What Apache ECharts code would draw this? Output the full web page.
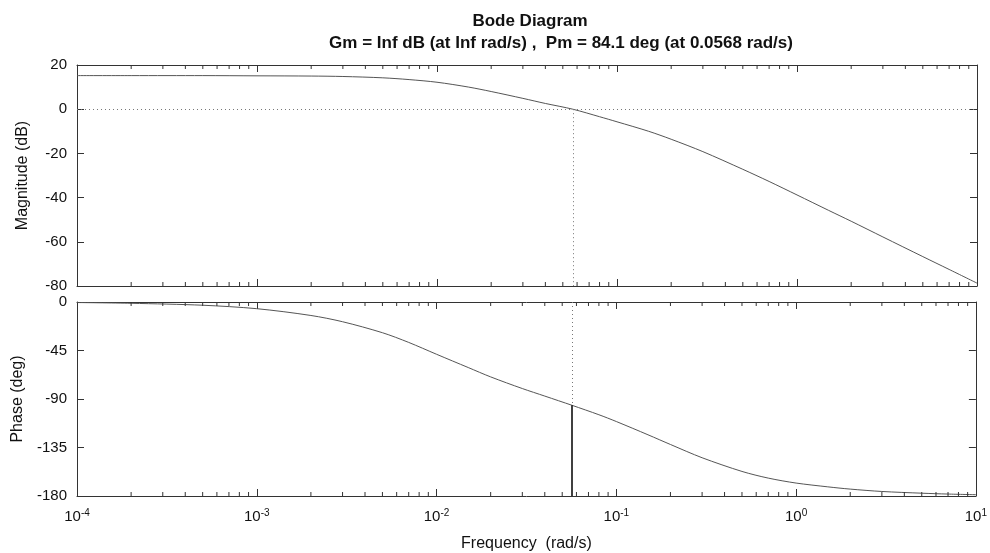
<!DOCTYPE html>
<html>
<head>
<meta charset="utf-8">
<script src="https://cdn.jsdelivr.net/npm/echarts@6/dist/echarts.min.js"></script>
<style>
  html, body { margin: 0; padding: 0; background: #fff; }
  #chart { width: 990px; height: 553px; }
</style>
</head>
<body>
<div id="chart"></div>
<script>
// frequencies (rad/s) and readings
const freq = [1e-4, 2e-4, 5e-4, 1e-3, 2e-3, 3e-3, 5e-3, 7e-3, 0.01, 0.015, 0.02, 0.03, 0.04, 0.0568,
  0.08, 0.1, 0.15, 0.2, 0.3, 0.5, 0.7, 1, 1.5, 2, 3, 5, 7, 10];
const magDb = [15.2, 15.2, 15.2, 15.1, 15.0, 14.8, 14.2, 13.4, 12.2, 10.0, 8.0, 4.9, 2.6, 0,
  -3.4, -5.7, -10, -13.6, -19.2, -27.2, -32.7, -38.8, -45.8, -50.7, -57.8, -66.7, -72.5, -78.7];
const phaseDeg = [-0.5, -1.2, -3, -6.2, -12.5, -18.3, -28.5, -37.5, -48.5, -60.8, -69.5, -80.3, -87.3, -95.9,
  -104.6, -110.9, -123.2, -132.2, -144.5, -157.2, -163.4, -168, -171.5, -173.6, -175.8, -177.4, -178.2, -178.8];

const wc = 0.0568;          // crossover frequency
const phaseAtWc = -95.9;    // 180 - 84.1
const minorTicks = [];
[1e-4, 1e-3, 1e-2, 1e-1, 1].forEach(function (d) {
  for (let k = 2; k <= 9; k++) minorTicks.push(+(d * k).toPrecision(3));
});

const font = "Liberation Sans, Arial, sans-serif";
const axisColor = "#333";

let chart = echarts.init(document.getElementById("chart"));

function xLog(grid, pos, showLabel) {
  return {
    type: "log", logBase: 10, gridIndex: grid, position: pos,
    min: 1e-4, max: 10, splitNumber: 5,
    axisLine: { show: true, onZero: false, lineStyle: { color: axisColor, width: 1 } },
    axisTick: { show: true, inside: true, length: 7, lineStyle: { color: axisColor } },
    splitLine: { show: false },
    axisLabel: showLabel ? {
      show: true, margin: 12, fontFamily: font, fontSize: 15, color: "#111",
      formatter: function (v) {
        let e = Math.round(Math.log10(v));
        return "{b|10}{s|" + e + "}";
      },
      rich: {
        b: { fontFamily: font, fontSize: 15, color: "#111" },
        s: { fontFamily: font, fontSize: 10, color: "#111", verticalAlign: "top", padding: [0, 0, 8, 0] }
      }
    } : { show: false }
  };
}

function yVal(grid, pos, min, max, step, name) {
  return {
    type: "value", gridIndex: grid, position: pos, min: min, max: max, interval: step,
    name: name || "", nameLocation: "middle", nameGap: 46,
    nameTextStyle: { fontFamily: font, fontSize: 16, color: "#111" },
    axisLine: { show: true, onZero: false, lineStyle: { color: axisColor, width: 1 } },
    axisTick: { show: true, inside: true, length: 7, lineStyle: { color: axisColor } },
    splitLine: { show: false },
    axisLabel: name ? { show: true, margin: 10, fontFamily: font, fontSize: 15, color: "#111" } : { show: false }
  };
}

function minorSeries(xi, yi, ymin, ymax) {
  return {
    type: "custom", xAxisIndex: xi, yAxisIndex: yi, silent: true, z: 5,
    data: minorTicks.map(function (f) { return [f, ymin]; }),
    renderItem: function (params, api) {
      let lo = api.coord([api.value(0), ymin]);
      let hi = api.coord([api.value(0), ymax]);
      let st = { stroke: axisColor, lineWidth: 1 };
      return {
        type: "group",
        children: [
          { type: "line", shape: { x1: lo[0], y1: lo[1], x2: lo[0], y2: lo[1] - 4 }, style: st },
          { type: "line", shape: { x1: hi[0], y1: hi[1], x2: hi[0], y2: hi[1] + 4 }, style: st }
        ]
      };
    }
  };
}

let dotted = { color: "#777", type: [1, 3], width: 1 };

let option = {
  animation: false,
  backgroundColor: "#fff",
  title: [
    { text: "Bode Diagram", left: 525, top: 8, textAlign: "center",
      textStyle: { fontFamily: font, fontSize: 17, fontWeight: "bold", color: "#111" } },
    { text: "Gm = Inf dB (at Inf rad/s) ,  Pm = 84.1 deg (at 0.0568 rad/s)", left: 556, top: 30, textAlign: "center",
      textStyle: { fontFamily: font, fontSize: 17, fontWeight: "bold", color: "#111" } }
  ],
  grid: [
    { left: 77, right: 13, top: 65, height: 221 },
    { left: 77, right: 13, top: 302, height: 194 }
  ],
  xAxis: [
    xLog(0, "bottom", false),
    xLog(0, "top", false),
    Object.assign(xLog(1, "bottom", true), {
      name: "Frequency  (rad/s)", nameLocation: "middle", nameGap: 40,
      nameTextStyle: { fontFamily: font, fontSize: 16, color: "#111" }
    }),
    xLog(1, "top", false)
  ],
  yAxis: [
    yVal(0, "left", -80, 20, 20, "Magnitude (dB)"),
    yVal(0, "right", -80, 20, 20, ""),
    yVal(1, "left", -180, 0, 45, "Phase (deg)"),
    yVal(1, "right", -180, 0, 45, "")
  ],
  series: [
    {
      type: "line", xAxisIndex: 0, yAxisIndex: 0, showSymbol: false, smooth: 0.3,
      data: freq.map(function (f, i) { return [f, magDb[i]]; }),
      lineStyle: { color: "#555", width: 1 },
      markLine: {
        silent: true, symbol: "none", label: { show: false }, lineStyle: dotted,
        data: [
          [{ coord: [1e-4, 0] }, { coord: [10, 0] }],
          [{ coord: [wc, 0] }, { coord: [wc, -80] }]
        ]
      }
    },
    {
      type: "line", xAxisIndex: 2, yAxisIndex: 2, showSymbol: false, smooth: 0.3,
      data: freq.map(function (f, i) { return [f, phaseDeg[i]]; }),
      lineStyle: { color: "#555", width: 1 },
      markLine: {
        silent: true, symbol: "none", label: { show: false }, lineStyle: dotted,
        data: [
          [{ coord: [wc, 0] }, { coord: [wc, phaseAtWc] }],
          [{ coord: [wc, phaseAtWc], lineStyle: { color: "#000", type: "solid", width: 1.5 } },
           { coord: [wc, -180] }]
        ]
      }
    },
    minorSeries(0, 0, -80, 20),
    minorSeries(2, 2, -180, 0)
  ]
};

chart.setOption(option);
</script>
</body>
</html>
